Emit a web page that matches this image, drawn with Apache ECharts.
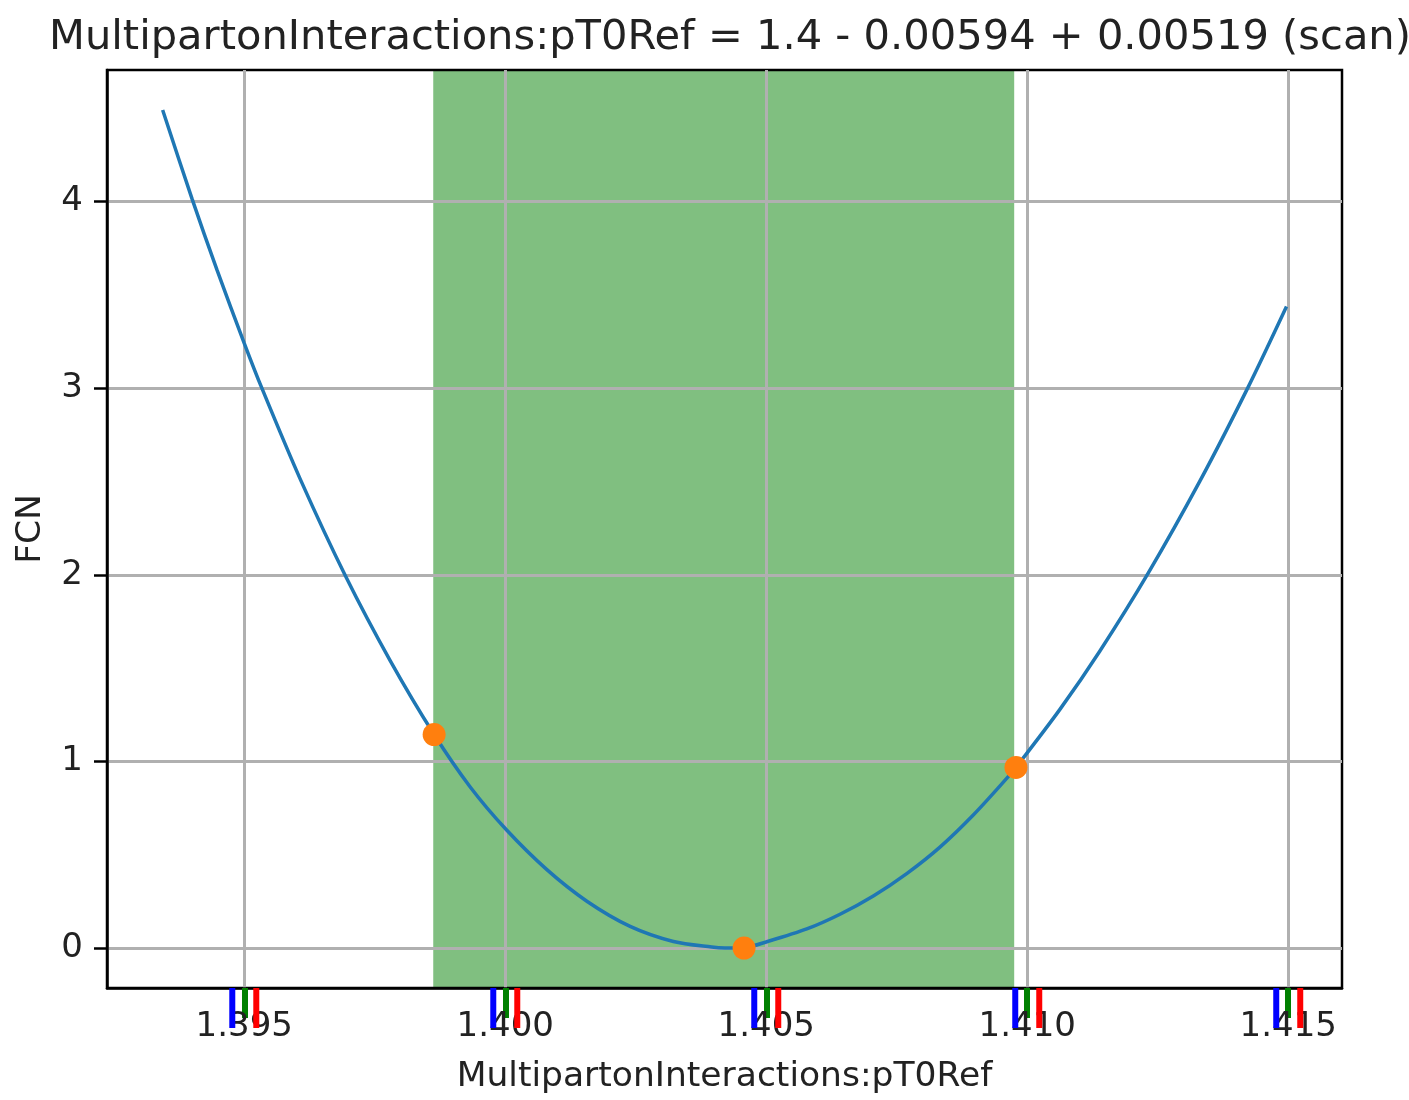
<!DOCTYPE html>
<html>
<head>
<meta charset="utf-8">
<script src="https://cdn.jsdelivr.net/npm/echarts@6/dist/echarts.min.js"></script>
<style>
  html, body { margin: 0; background: #fff; }
  #chart { width: 1409px; height: 1100px; }
</style>
</head>
<body>
<div id="chart"></div>
<script>
// scan of FCN vs parameter
const scanX = [
  1.393436, 1.393998, 1.394477, 1.395000, 1.395339, 1.396072, 1.396944, 1.397800,
  1.398637, 1.399328, 1.400017, 1.400797, 1.401563, 1.402392, 1.403221, 1.403954,
  1.404211, 1.404575, 1.405040, 1.405776, 1.406413, 1.407051, 1.407691, 1.408328,
  1.408966, 1.409606, 1.409784, 1.410626, 1.411392, 1.412317, 1.413307, 1.414232,
  1.414967
];
const scanFCN = [
  4.491, 4.016, 3.634, 3.241, 2.999, 2.513, 1.991, 1.538,
  1.144, 0.863, 0.635, 0.420, 0.251, 0.116, 0.035, 0.005,
  0.000, 0.002, 0.036, 0.102, 0.181, 0.279, 0.399, 0.541,
  0.713, 0.909, 0.968, 1.279, 1.592, 2.009, 2.502, 3.006,
  3.438
];

// minimum and the two error points
const markerX = [1.398637, 1.404575, 1.409784];
const markerFCN = [1.144, 0.000, 0.968];

// 1 sigma band
const bandLo = 1.39862;
const bandHi = 1.40975;

const xTicks = [1.395, 1.400, 1.405, 1.410, 1.415];
const yTicks = [0, 1, 2, 3, 4];

const titleText = 'MultipartonInteractions:pT0Ref = 1.4 - 0.00594 + 0.00519 (scan)';
const xName = 'MultipartonInteractions:pT0Ref';
const yName = 'FCN';

const FONT = 'DejaVu Sans';
const X_MIN = 1.39237, X_MAX = 1.41603;
const Y_MIN = -0.2143, Y_MAX = 4.7056;
const chart = echarts.init(document.getElementById('chart'));

chart.setOption({
  animation: false,
  title: {
    text: titleText,
    left: 725,
    textAlign: 'center',
    top: 12,
    textStyle: { fontFamily: FONT, fontSize: 41.6, fontWeight: 'normal', color: '#222' }
  },
  grid: {
    left: 107, right: 67, top: 70, bottom: 111,
    show: true,
    borderColor: '#000', borderWidth: 2.5
  },
  xAxis: {
    type: 'value',
    min: X_MIN, max: X_MAX,
    name: xName,
    nameLocation: 'middle',
    nameGap: 72,
    nameTextStyle: { fontFamily: FONT, fontSize: 34.5, color: '#222' },
    axisLine: { show: true, onZero: false, lineStyle: { color: '#000', width: 2.5 } },
    axisTick: { show: true, length: 30, customValues: xTicks, lineStyle: { color: 'green', width: 6 } },
    axisLabel: {
      customValues: xTicks,
      margin: 22,
      fontFamily: FONT, fontSize: 34, color: '#222',
      formatter: v => v.toFixed(3)
    },
    splitLine: { show: true, lineStyle: { color: '#b0b0b0', width: 3 } }
  },
  yAxis: {
    type: 'value',
    min: Y_MIN, max: Y_MAX,
    name: yName,
    nameLocation: 'middle',
    nameGap: 58,
    nameTextStyle: { fontFamily: FONT, fontSize: 34.5, color: '#222' },
    axisLine: { show: true, onZero: false, lineStyle: { color: '#000', width: 2.5 } },
    axisTick: { show: true, length: 13, customValues: yTicks, lineStyle: { color: '#000', width: 2.5 } },
    axisLabel: {
      customValues: yTicks,
      margin: 24,
      fontFamily: FONT, fontSize: 34, color: '#222',
      formatter: v => String(v)
    },
    splitLine: { show: true, lineStyle: { color: '#b0b0b0', width: 3 } }
  },
  series: [
    {
      type: 'line',
      z: -1,
      data: [],
      silent: true,
      markArea: {
        z: -1,
        silent: true,
        itemStyle: { color: '#80bf80', opacity: 1 },
        data: [[{ xAxis: bandLo }, { xAxis: bandHi }]]
      }
    },
    {
      type: 'line',
      z: 3,
      data: scanX.map((x, i) => [x, scanFCN[i]]),
      smooth: 0.3,
      showSymbol: false,
      lineStyle: { color: '#1f77b4', width: 3.5 }
    },
    {
      type: 'scatter',
      z: 4,
      data: markerX.map((x, i) => [x, markerFCN[i]]),
      symbolSize: 23,
      itemStyle: { color: '#ff7f0e', opacity: 1 }
    },
    {
      type: 'custom',
      silent: true,
      clip: false,
      data: xTicks.map(v => [v, Y_MIN]),
      encode: { x: 0, y: 1 },
      renderItem: (params, api) => {
        const p = api.coord([api.value(0), api.value(1)]);
        return {
          type: 'line',
          shape: { x1: p[0] + 12, y1: p[1], x2: p[0] + 12, y2: p[1] + 40 },
          style: { stroke: 'red', lineWidth: 6 }
        };
      }
    }
  ]
});

const tickMarks = xTicks.map(v => {
  const p = chart.convertToPixel({ xAxisIndex: 0, yAxisIndex: 0 }, [v, Y_MIN]);
  return {
    type: 'line',
    z: 100,
    silent: true,
    shape: { x1: p[0] - 12, y1: p[1], x2: p[0] - 12, y2: p[1] + 40 },
    style: { stroke: 'blue', lineWidth: 6 }
  };
});
chart.setOption({ graphic: tickMarks });
</script>
</body>
</html>
